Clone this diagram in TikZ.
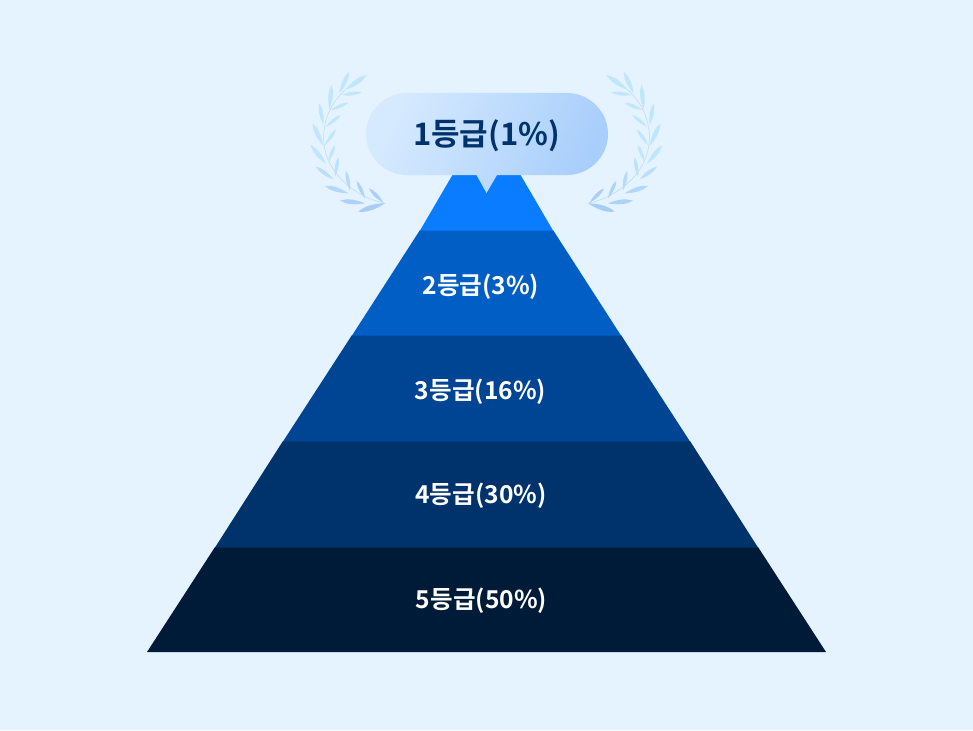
\documentclass[tikz,border=0pt]{standalone}
\usepackage{fontspec}
\setmainfont{Noto Sans CJK KR}[BoldFont={Noto Sans CJK KR Bold}]
\usetikzlibrary{calc}
\definecolor{bgc}{HTML}{E5F2FF}
\definecolor{bandA}{HTML}{0A7CFF}
\definecolor{bandB}{HTML}{005EC4}
\definecolor{bandC}{HTML}{004494}
\definecolor{bandD}{HTML}{00326B}
\definecolor{bandE}{HTML}{001B38}
\definecolor{pillL}{HTML}{D6EAFF}
\definecolor{pillR}{HTML}{A8CEFB}
\definecolor{titlec}{HTML}{00326B}
\definecolor{leafT}{HTML}{BFE7FC}
\definecolor{leafB}{HTML}{A6CCF5}
\tikzset{
  gradelabel/.style={text=white,font=\bfseries\fontsize{24.6}{28}\selectfont,anchor=center,inner sep=0pt},
  toplabel/.style={text=titlec,font=\bfseries\fontsize{31}{36}\selectfont,anchor=center,inner sep=0pt},
}
\newcommand{\leafshape}[3]{%
  \fill[leafT!#3!leafB] (#1) .. controls ($(#1)!0.45!16:(#2)$) and ($(#1)!0.75!9:(#2)$) .. (#2)
     .. controls ($(#1)!0.75!-9:(#2)$) and ($(#1)!0.45!-16:(#2)$) .. (#1) -- cycle;}
\newcommand{\wreathhalf}{%
  \begin{scope}[xshift=290pt,yshift=-60pt,x=0.3333pt,y=-0.3333pt]
    \draw[leafT!60!leafB,line width=0.5pt] (285,430) .. controls (190,410) and (120,340) .. (105,270)
        .. controls (92,210) and (110,140) .. (165,90);
    \leafshape{165,90}{230,45}{100}
    \leafshape{148,100}{178,35}{100}
    \leafshape{155,105}{215,97}{100}
    \leafshape{118,148}{125,75}{100}
    \leafshape{122,150}{175,128}{100}
    \leafshape{100,195}{88,130}{100}
    \leafshape{108,200}{152,165}{100}
    \leafshape{100,258}{68,190}{100}
    \leafshape{105,255}{138,208}{100}
    \leafshape{108,312}{62,255}{95}
    \leafshape{115,305}{135,255}{95}
    \leafshape{130,358}{78,320}{75}
    \leafshape{135,350}{145,292}{80}
    \leafshape{175,400}{105,378}{45}
    \leafshape{180,392}{168,332}{55}
    \leafshape{225,430}{150,422}{25}
    \leafshape{225,415}{200,362}{30}
    \leafshape{285,430}{205,455}{5}
    \leafshape{280,428}{237,385}{10}
  \end{scope}}
\begin{document}
\begin{tikzpicture}[x=1pt,y=-1pt]
  \useasboundingbox (0,0) rectangle (973,730);
  \fill[bgc] (0,0) rectangle (973,730);
  \wreathhalf
  \begin{scope}[xshift=973pt,xscale=-1]\wreathhalf\end{scope}
  % pyramid bands
  \fill[bandE] (147,652) -- (826,652) -- (758,547) -- (215,547) -- cycle;
  \fill[bandD] (215,547.5) -- (758,547.5) -- (690,441) -- (283,441) -- cycle;
  \fill[bandC] (283,441.5) -- (690,441.5) -- (621,335) -- (352,335) -- cycle;
  \fill[bandB] (352,335.5) -- (621,335.5) -- (553,230) -- (420,230) -- cycle;
  \fill[bandA] (420,230.5) -- (553,230.5) -- (520,174) -- (453,174) -- cycle;
  % callout
  \shade[left color=pillL,right color=pillR,shading angle=65]
    (407,93) -- (567,93) .. controls (589.6,93) and (608,111.4) .. (608,134)
    .. controls (608,156.6) and (589.6,175) .. (567,175)
    -- (497,175) -- (486.5,193) -- (476.5,175) -- (407,175)
    .. controls (384.4,175) and (366,156.6) .. (366,134)
    .. controls (366,111.4) and (384.4,93) .. (407,93) -- cycle;
  % labels
  \node[toplabel]   (g1) at (486.5,136) {1등급(1\%)};
  \node[gradelabel] (g2) at (481,286.5) {2등급(3\%)};
  \node[gradelabel] (g3) at (480.5,391.5) {3등급(16\%)};
  \node[gradelabel] (g4) at (481,496)   {4등급(30\%)};
  \node[gradelabel] (g5) at (481.5,600.5) {5등급(50\%)};
\end{tikzpicture}
\end{document}
